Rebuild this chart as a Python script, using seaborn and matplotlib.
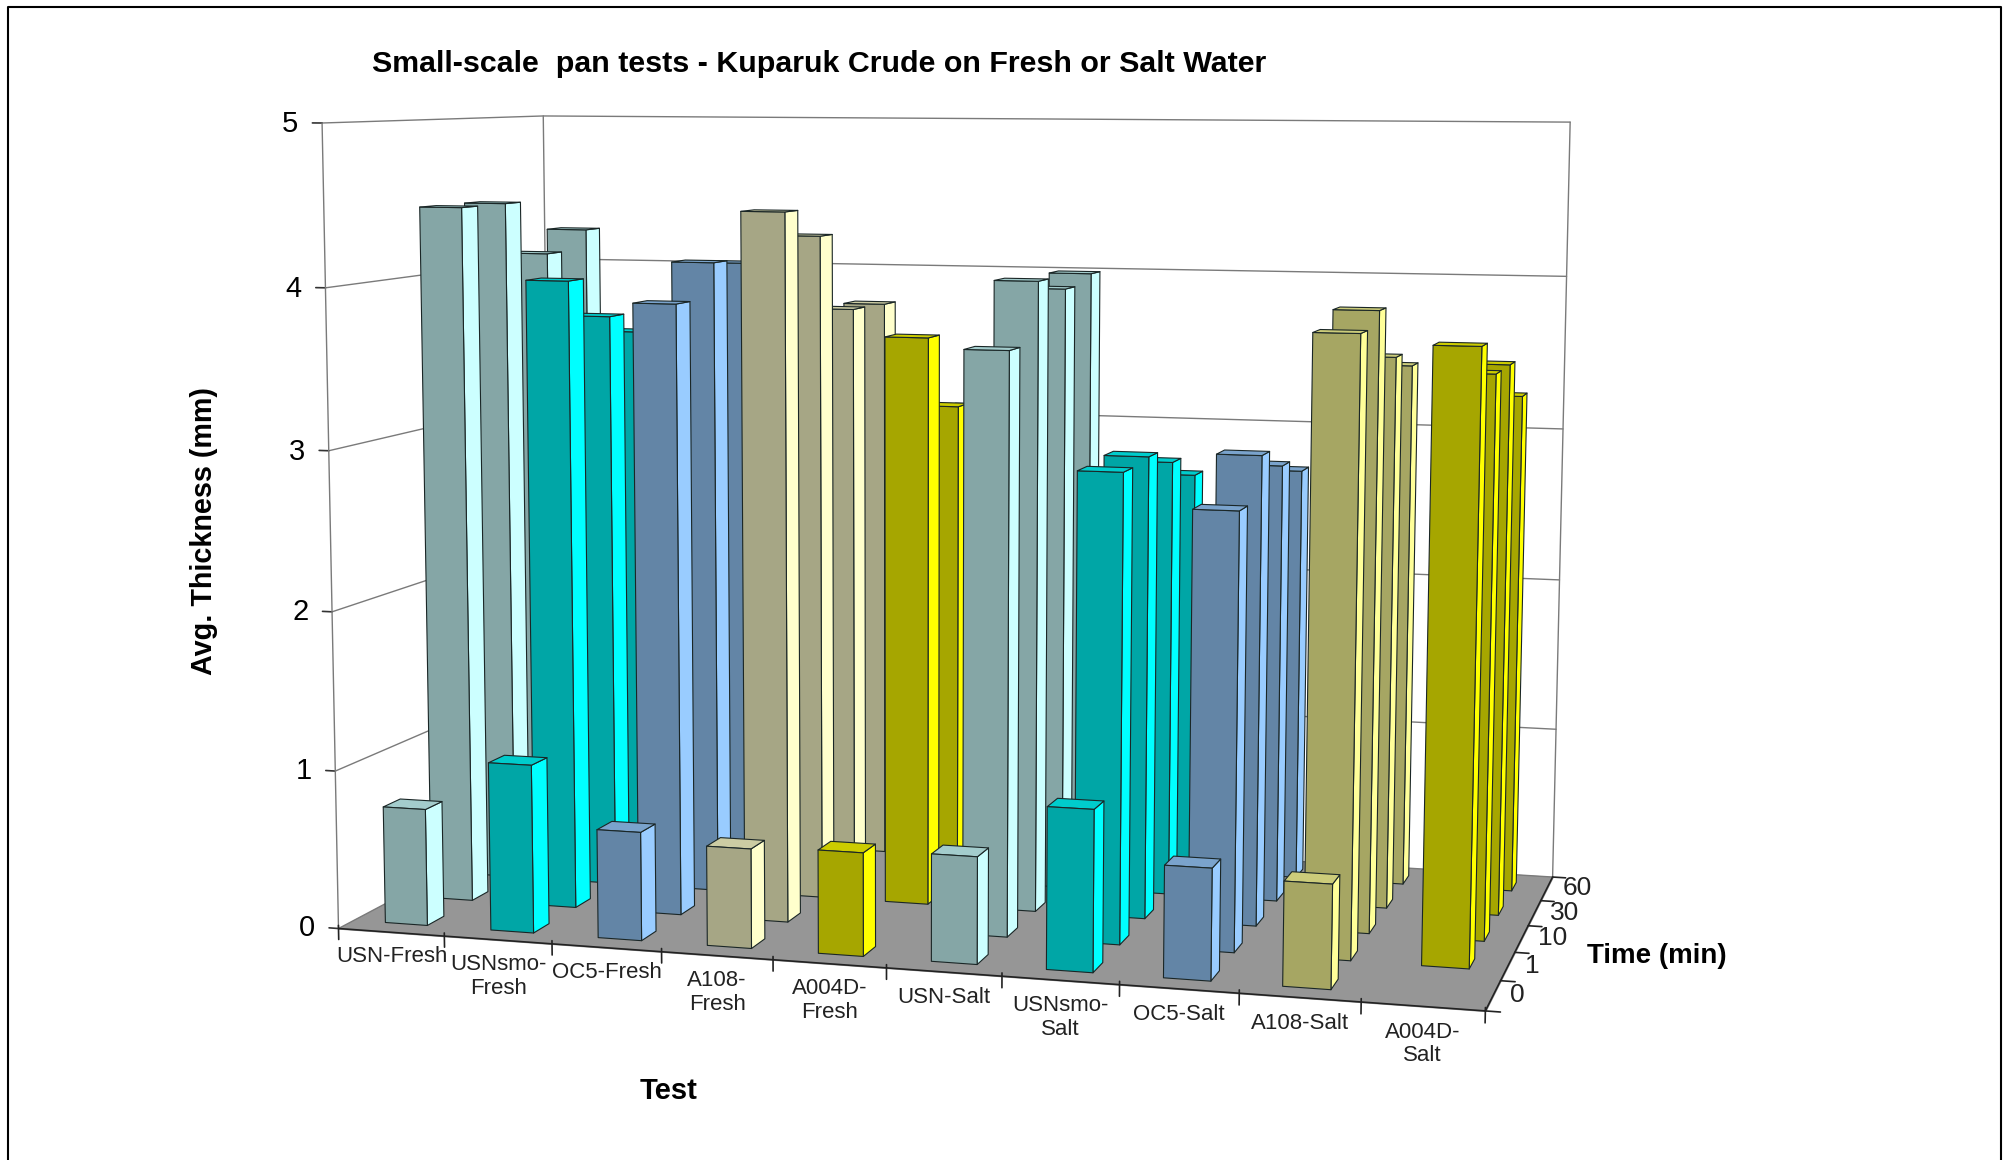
import numpy as np
import matplotlib
matplotlib.use('Agg')
import matplotlib.pyplot as plt
import seaborn as sns
from matplotlib.lines import Line2D
from mpl_toolkits.mplot3d import proj3d
from mpl_toolkits.mplot3d.art3d import Poly3DCollection

tests = ['USN-Fresh', 'USNsmo-\nFresh', 'OC5-Fresh', 'A108-\nFresh', 'A004D-\nFresh',
         'USN-Salt', 'USNsmo-\nSalt', 'OC5-Salt', 'A108-Salt', 'A004D-\nSalt']
times = ['0', '1', '10', '30', '60']

# avg thickness, 0 = no bar
t0 = [0.74, 1.06, 0.68, 0.62, 0.64, 0.66, 0.99, 0.68, 0.63, 0]
t1 = [4.46, 4.01, 3.88, 4.46, 0, 3.64, 2.92, 2.71, 3.79, 3.73]
t10 = [4.46, 3.74, 4.10, 4.28, 3.65, 4.02, 2.94, 2.97, 3.88, 3.51]
t30 = [4.10, 3.59, 4.06, 3.77, 3.15, 3.93, 2.83, 2.83, 3.54, 3.51]
t60 = [4.23, 3.54, 4.02, 3.76, 3.08, 3.99, 2.67, 2.72, 3.43, 3.25]
rows = [t0, t1, t10, t30, t60]

side_colors = ['#CCFFFF', '#00FFFF', '#99CCFF', '#FFFFCC', '#FFFF00',
               '#CCFFFF', '#00FFFF', '#99CCFF', '#FFFF99', '#FFFF00']

sns.set_theme(style='white')
plt.rcParams['font.family'] = ['Liberation Sans', 'DejaVu Sans']
palette = sns.color_palette(side_colors)

W, H = 2007, 1160
fig = plt.figure(figsize=(W / 100, H / 100), dpi=100)
ax = fig.add_axes([370.4 / W, 46.7 / H, H / W, 1], projection='3d')
ax.set_axis_off()
ax.computed_zorder = False
ax.view_init(7.19, -74.56, -0.124)
ax.set_box_aspect((1.4289, 0.7062, 1), zoom=1.2368)
ax.set_proj_type('persp', focal_length=0.5674)

nx, ny, nz = len(tests), len(times), 5
ax.set_xlim(0, nx, view_margin=0)
ax.set_ylim(0, ny, view_margin=0)
ax.set_zlim(0, nz, view_margin=0)
GRID = '#7a7a7a'


def label3d(x, y, z, s, **kw):
    # place a flat text at a 3d spot
    u, v, _ = proj3d.proj_transform(x, y, z, ax.get_proj())
    ax.text2D(u, v, s, clip_on=False, **kw)


# floor
ax.add_collection3d(Poly3DCollection([[(0, 0, 0), (nx, 0, 0), (nx, ny, 0), (0, ny, 0)]],
                                     facecolor='#969696', edgecolor='#969696', zorder=1,
                                     clip_on=False))

# walls
for v in range(nz + 1):
    ax.plot([0, 0, nx], [0, ny, ny], [v, v, v], color=GRID, lw=1, zorder=2, clip_on=False)
    ax.plot([-0.09, 0], [0, 0], [v, v], color='#333333', lw=1.2, zorder=2, clip_on=False)
    label3d(-0.22, 0, v - 0.01, str(v), ha='right', va='center', fontsize=21, color='black')
for x, y in [(0, 0), (0, ny), (nx, ny)]:
    ax.plot([x, x], [y, y], [0, nz], color=GRID, lw=1, zorder=2, clip_on=False)

# bars, back row first and left to right so nearer ones paint over
z = 10
for r in range(ny - 1, -1, -1):
    for i in range(nx):
        v = rows[r][i]
        if v == 0:
            continue
        c = np.array(palette[i])
        none = (0, 0, 0, 0)
        faces = [none, (*(c * 0.8), 1), (*(c * 0.65), 1), none, none, (*c, 1)]
        edge = (0.1, 0.15, 0.15, 1)
        edges = [none, edge, edge, none, none, edge]
        ax.bar3d(i + 0.30, r + 0.32, 0, 0.4, 0.36, v, color=faces, edgecolors=edges,
                 linewidth=0.8, shade=False, zorder=z, clip_on=False)
        z += 1

# front edge and right edge ticks
ax.plot([0, nx], [0, 0], [0, 0], color='#222222', lw=1.2, zorder=z, clip_on=False)
ax.plot([nx, nx], [0, ny], [0, 0], color='#222222', lw=1.2, zorder=z, clip_on=False)
for i in range(nx + 1):
    ax.plot([i, i], [0, 0], [-0.07, 0.02], color='#222222', lw=1.2, zorder=z, clip_on=False)
for j in range(ny + 1):
    ax.plot([nx, nx + 0.12], [j, j], [0, 0], color='#222222', lw=1.2, zorder=z, clip_on=False)

for i, name in enumerate(tests):
    label3d(i + 0.5, 0, -0.09, name, ha='center', va='top', fontsize=16,
            linespacing=1.15, color='#222222')
for j, name in enumerate(times):
    label3d(nx + 0.14, j + 0.5, 0.01, name, ha='left', va='center', fontsize=19,
            color='#222222')

ax.set_xlim(0, nx, view_margin=0)
ax.set_ylim(0, ny, view_margin=0)
ax.set_zlim(0, nz, view_margin=0)

# title and axis names
S = 1.28
fig.text(291 * S / W, 1 - 50 * S / H, 'Small-scale  pan tests - Kuparuk Crude on Fresh or Salt Water',
         ha='left', va='center', fontsize=21.9, fontweight='bold', color='black')
fig.text(159 * S / W, 1 - 415 * S / H, 'Avg. Thickness (mm)', rotation=90, ha='center', va='center',
         fontsize=20.7, fontweight='bold', color='black')
fig.text(522 * S / W, 1 - 852 * S / H, 'Test', ha='center', va='center', fontsize=21,
         fontweight='bold', color='black')
fig.text(1294 * S / W, 1 - 747 * S / H, 'Time (min)', ha='center', va='center', fontsize=20,
         fontweight='bold', color='black')

# picture frame, open at the bottom
fig.add_artist(Line2D([7.5 / W, 7.5 / W, 2001 / W, 2001 / W], [0, 1 - 7 / H, 1 - 7 / H, 0],
                      color='black', lw=1.5))

fig.savefig('out.png', dpi=100, facecolor='white')
